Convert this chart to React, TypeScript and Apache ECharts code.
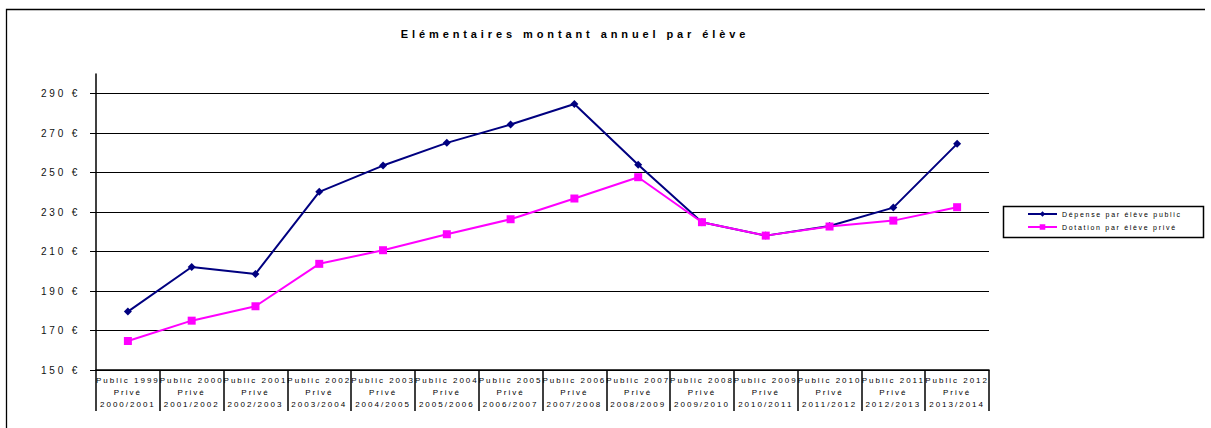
import React, { useEffect, useRef } from "react";
import * as echarts from "echarts";

const publicYears = [
  "Public 1999", "Public 2000", "Public 2001", "Public 2002", "Public 2003", "Public 2004", "Public 2005",
  "Public 2006", "Public 2007", "Public 2008", "Public 2009", "Public 2010", "Public 2011", "Public 2012",
];
const priveYears = [
  "2000/2001", "2001/2002", "2002/2003", "2003/2004", "2004/2005", "2005/2006", "2006/2007",
  "2007/2008", "2008/2009", "2009/2010", "2010/2011", "2011/2012", "2012/2013", "2013/2014",
];
const depensePublic = [179.6, 202.2, 198.7, 240.3, 253.6, 265.1, 274.4, 284.8, 254.0, 224.9, 218.1, 223.0, 232.3, 264.6];
const dotationPrive = [164.7, 175.0, 182.3, 203.8, 210.7, 218.8, 226.4, 236.9, 247.7, 224.9, 218.1, 222.7, 225.7, 232.5];
const yTicks = [150, 170, 190, 210, 230, 250, 270, 290];

const seriesNames = ["Dépense par élève public", "Dotation par élève privé"];
const titleText = "Elémentaires montant annuel par élève";

const css = `
text[style*="11px"] { letter-spacing: 3.9px; }
text[style*="10px"] { letter-spacing: 2.8px; }
text[style*="8px"] { letter-spacing: 2px; }
text[style*="7px"] { letter-spacing: 1.7px; }
`;

export default function App() {
  const ref = useRef<HTMLDivElement>(null);

  useEffect(() => {
    if (!ref.current) return;
    const chart = echarts.init(ref.current, null, { renderer: "svg" });
    const categories = publicYears.map((p, i) => `${p}\nPrivé\n${priveYears[i]}`);

    chart.setOption({
      animation: false,
      backgroundColor: "#fff",
      grid: { left: 96, right: 222, top: 74, bottom: 58 },
      graphic: [
        {
          type: "polyline",
          shape: { points: [[6.5, 428], [6.5, 9.5], [1205, 9.5]] },
          style: { stroke: "#000", lineWidth: 1.3, fill: null },
          silent: true,
        },
        {
          type: "rect",
          shape: { x: 1003.5, y: 206.5, width: 200, height: 31 },
          style: { stroke: "#000", lineWidth: 1.5, fill: "none" },
          silent: true,
        },
        {
          type: "text",
          x: 575,
          y: 34,
          style: {
            text: titleText,
            fontSize: 11,
            fontWeight: "bold",
            fontFamily: "Arial",
            fill: "#000",
            align: "center",
            verticalAlign: "middle",
            textAlign: "center",
            textVerticalAlign: "middle",
          },
          silent: true,
        },
      ],
      legend: {
        orient: "vertical",
        left: 1027,
        top: 210.5,
        padding: 0,
        itemWidth: 29,
        itemHeight: 7,
        itemGap: 6,
        textStyle: { fontSize: 7, fontFamily: "Arial", color: "#000" },
        data: seriesNames,
      },
      xAxis: {
        type: "category",
        data: categories,
        boundaryGap: true,
        axisLine: { show: true, lineStyle: { color: "#000", width: 1.5 } },
        axisTick: { show: true, interval: 0, length: 41, lineStyle: { color: "#000", width: 1.5 } },
        axisLabel: {
          interval: 0,
          fontSize: 8,
          fontFamily: "Arial",
          color: "#000",
          lineHeight: 11.7,
          margin: 5,
        },
        splitLine: { show: false },
      },
      yAxis: {
        type: "value",
        min: 150,
        max: 300,
        axisLine: { show: true, lineStyle: { color: "#000", width: 1.5 } },
        axisTick: { show: true, customValues: yTicks, length: 6, lineStyle: { color: "#000", width: 1 } },
        axisLabel: {
          customValues: yTicks,
          formatter: (v: number) => `${v} €`,
          fontSize: 10,
          fontFamily: "Arial",
          color: "#111",
          margin: 16,
        },
        splitLine: { show: true, lineStyle: { color: "#000", width: 1 } },
      },
      series: [
        {
          name: seriesNames[0],
          type: "line",
          data: depensePublic,
          symbol: "diamond",
          symbolSize: 8,
          lineStyle: { color: "#000080", width: 2 },
          itemStyle: { color: "#000080" },
        },
        {
          name: seriesNames[1],
          type: "line",
          data: dotationPrive,
          symbol: "rect",
          symbolSize: 8,
          lineStyle: { color: "#ff00ff", width: 2 },
          itemStyle: { color: "#ff00ff" },
        },
      ],
    });

    return () => chart.dispose();
  }, []);

  return (
    <>
      <style>{css}</style>
      <div
        ref={ref}
        style={{ position: "fixed", left: 0, top: 0, width: 1211, height: 428, background: "#fff" }}
      />
    </>
  );
}
